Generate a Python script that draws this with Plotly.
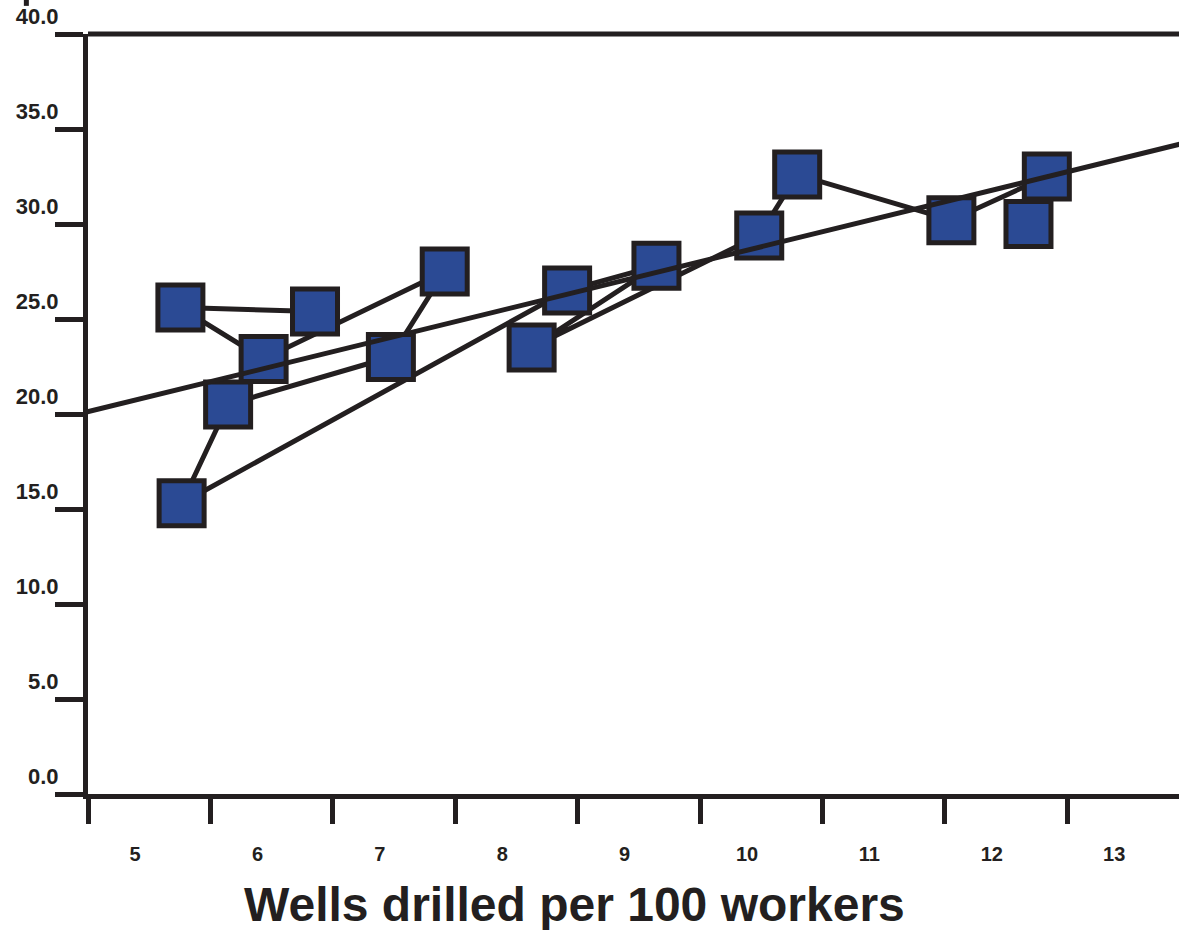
import plotly.graph_objects as go

# Observed points, in the order they are connected (time path)
wells_x = [6.47, 5.37, 6.05, 7.53, 7.09, 5.76, 5.38, 8.53, 9.26, 8.24, 10.10, 10.41, 11.67, 12.45, 12.30]
value_y = [25.4, 25.6, 22.9, 27.5, 23.0, 20.5, 15.3, 26.5, 27.8, 23.5, 29.4, 32.6, 30.2, 32.5, 30.0]

# Fitted trend line end points
trend_x = [4.6, 13.6]
trend_y = [20.1, 34.3]

x_tick_vals = [5, 6, 7, 8, 9, 10, 11, 12, 13]
x_tick_text = ["5", "6", "7", "8", "9", "10", "11", "12", "13"]
y_tick_vals = [0, 5, 10, 15, 20, 25, 30, 35, 40]
y_tick_text = ["0.0", "5.0", "10.0", "15.0", "20.0", "25.0", "30.0", "35.0", "40.0"]

INK = "#231F20"
BLUE = "#2B4A94"
FONT = "Liberation Sans, Arial, Helvetica, sans-serif"
x_offset = 0.384  # tick marks sit left of the labels
x_range = [4.615, 13.53]

fig = go.Figure()
fig.add_trace(go.Scatter(
    x=wells_x, y=value_y, mode="lines+markers",
    line=dict(color=INK, width=5),
    marker=dict(symbol="square", size=45, color=BLUE, line=dict(color=INK, width=5)),
    cliponaxis=False, showlegend=False, hoverinfo="skip"))
fig.add_trace(go.Scatter(
    x=trend_x, y=trend_y, mode="lines",
    line=dict(color=INK, width=5), showlegend=False, hoverinfo="skip"))

fig.update_layout(
    width=1179, height=930,
    margin=dict(l=88, r=0, t=34, b=136),
    paper_bgcolor="white", plot_bgcolor="white",
    font=dict(family=FONT, color=INK),
    xaxis=dict(
        range=x_range, showgrid=False, zeroline=False,
        showline=True, linecolor=INK, linewidth=5,
        tickmode="array", tickvals=x_tick_vals, ticktext=x_tick_text,
        ticks="", ticklabelstandoff=38,
        tickfont=dict(family=FONT, size=20, color=INK, weight="bold"),
        minor=dict(tickmode="array",
                   tickvals=[v - x_offset for v in x_tick_vals],
                   ticks="outside", ticklen=25, tickwidth=5, tickcolor=INK, showgrid=False),
    ),
    yaxis=dict(
        range=[0, 40], showgrid=False, zeroline=False,
        showline=True, linecolor=INK, linewidth=5,
        tickmode="array", tickvals=y_tick_vals, ticktext=y_tick_text,
        ticks="outside", ticklen=28, tickwidth=5, tickcolor=INK,
        ticklabelposition="outside top", ticklabelstandoff=20,
        tickfont=dict(family=FONT, size=22, color=INK, weight="bold"),
    ),
    shapes=[
        dict(type="line", xref="paper", yref="paper", x0=0, x1=1, y0=1.0, y1=1.0,
             line=dict(color=INK, width=5)),
        dict(type="line", xref="paper", yref="paper", x0=-0.0565, x1=-0.0565, y0=1.037, y1=1.05,
             line=dict(color=INK, width=5)),
    ],
    annotations=[
        dict(text="Wells drilled per 100 workers", xref="paper", yref="paper",
             x=0.446, y=-0.146, xanchor="center", yanchor="middle", showarrow=False,
             font=dict(family=FONT, size=48, color=INK, weight="bold")),
    ],
)

fig.write_html("out.html", config={"displayModeBar": False},
               post_script="document.body.style.margin='0px';")
